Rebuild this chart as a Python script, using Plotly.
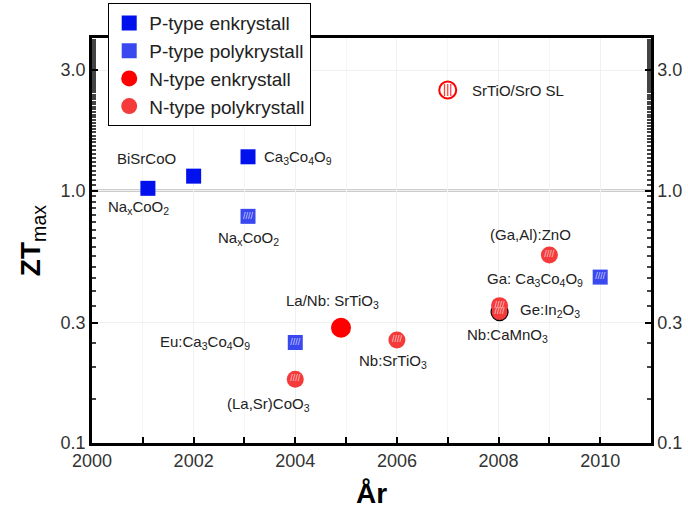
import math
import plotly.graph_objects as go

# ---------------- data ----------------
p_enk_year = [2001.1, 2002.0, 2003.07]
p_enk_zt = [1.02, 1.14, 1.36]
p_enk_label = ["Na<sub>x</sub>CoO<sub>2</sub>", "BiSrCoO", "Ca<sub>3</sub>Co<sub>4</sub>O<sub>9</sub>"]

p_poly_year = [2003.07, 2004.0, 2010.0]
p_poly_zt = [0.79, 0.25, 0.454]
p_poly_label = ["Na<sub>x</sub>CoO<sub>2</sub>", "Eu:Ca<sub>3</sub>Co<sub>4</sub>O<sub>9</sub>",
                "Ga: Ca<sub>3</sub>Co<sub>4</sub>O<sub>9</sub>"]

n_enk_year = [2004.9]
n_enk_zt = [0.286]
n_enk_label = ["La/Nb: SrTiO<sub>3</sub>"]

n_poly_year = [2004.0, 2006.0, 2009.0, 2008.02, 2008.02]
n_poly_zt = [0.179, 0.256, 0.555, 0.33, 0.35]
n_poly_label = ["(La,Sr)CoO<sub>3</sub>", "Nb:SrTiO<sub>3</sub>", "(Ga,Al):ZnO",
                "Nb:CaMnO<sub>3</sub>", "Ge:In<sub>2</sub>O<sub>3</sub>"]
n_poly_outline = ["rgba(0,0,0,0)", "rgba(0,0,0,0)", "rgba(0,0,0,0)", "black", "rgba(0,0,0,0)"]

sl_year = [2007.0]
sl_zt = [2.5]
sl_label = ["SrTiO/SrO SL"]

ref_zt = 1.0
ytick_vals = [0.1, 0.3, 1.0, 3.0]
ytick_text = ["0.1", "0.3", "1.0", "3.0"]
xtick_vals = [2000, 2002, 2004, 2006, 2008, 2010]

# label placement (pixel offsets, anchor)
p_enk_off = [(-9, -19, "center"), (-47, 18, "center"), (14, -1, "left")]
p_poly_off = [(0, -22, "center"), (-43, 0, "right"), (-15, -2, "right")]
n_enk_off = [(-9, 26, "center")]
n_poly_off = [(-27, -25, "center"), (-4, -22, "center"), (-19, 21, "center"),
              (8, -23, "center"), (18, -5, "left")]
sl_off = [(22, 0, "left")]

FONT = "Arial, Liberation Sans, Helvetica, sans-serif"
BLUE = "#0011ee"
BLUE_H = "#3a48f0"
RED = "#ff0000"
RED_H = "#f43a3a"

fig = go.Figure()

fig.add_trace(go.Scatter(x=p_enk_year, y=p_enk_zt, mode="markers", name="P-type enkrystall",
                         marker=dict(symbol="square", size=15, color=BLUE, line=dict(width=0))))
fig.add_trace(go.Scatter(x=p_poly_year, y=p_poly_zt, mode="markers", name="P-type polykrystall",
                         marker=dict(symbol="square", size=15, color=BLUE_H, line=dict(width=0))))
fig.add_trace(go.Scatter(x=n_enk_year, y=n_enk_zt, mode="markers", name="N-type enkrystall",
                         marker=dict(symbol="circle", size=20, color=RED, line=dict(width=0))))
fig.add_trace(go.Scatter(x=n_poly_year, y=n_poly_zt, mode="markers", name="N-type polykrystall",
                         marker=dict(symbol="circle", size=17, color=RED_H,
                                     line=dict(width=1.2, color=n_poly_outline))))
fig.add_trace(go.Scatter(x=sl_year, y=sl_zt, mode="markers", name="SL", showlegend=False,
                         marker=dict(symbol="circle", size=17, color="white",
                                     line=dict(width=2, color=RED))))

# hatch overlays
fig.add_trace(go.Scatter(x=p_poly_year, y=p_poly_zt, mode="text", text=["////"] * len(p_poly_year),
                         textfont=dict(size=9, color="rgba(255,255,255,0.75)", family=FONT),
                         showlegend=False, hoverinfo="skip"))
fig.add_trace(go.Scatter(x=n_poly_year, y=n_poly_zt, mode="text", text=["////"] * len(n_poly_year),
                         textfont=dict(size=9, color="rgba(255,255,255,0.75)", family=FONT),
                         showlegend=False, hoverinfo="skip"))
fig.add_trace(go.Scatter(x=sl_year, y=sl_zt, mode="text", text=["|||"],
                         textfont=dict(size=12, color=RED, family=FONT),
                         showlegend=False, hoverinfo="skip"))
# invisible trace to activate right axis
fig.add_trace(go.Scatter(x=sl_year, y=sl_zt, yaxis="y2", mode="markers",
                         marker=dict(opacity=0), showlegend=False, hoverinfo="skip"))

fig.add_hline(y=ref_zt, line=dict(color="#999999", width=2), layer="below")

for xs, ys, labels, offs in [(p_enk_year, p_enk_zt, p_enk_label, p_enk_off),
                              (p_poly_year, p_poly_zt, p_poly_label, p_poly_off),
                              (n_enk_year, n_enk_zt, n_enk_label, n_enk_off),
                              (n_poly_year, n_poly_zt, n_poly_label, n_poly_off),
                              (sl_year, sl_zt, sl_label, sl_off)]:
    for x, y, lab, (dx, dy, anc) in zip(xs, ys, labels, offs):
        fig.add_annotation(x=x, y=math.log10(y), text=lab, showarrow=False, xanchor=anc,
                           yanchor="middle", xshift=dx, yshift=dy,
                           font=dict(size=15, color="#222222", family=FONT))

yax = dict(type="log", range=[-1, 0.604], tickvals=ytick_vals, ticktext=ytick_text,
           ticks="inside", ticklen=6, tickwidth=1.5, tickcolor="black",
           showline=True, linecolor="black", linewidth=2.5,
           tickfont=dict(size=18, color="#333333", family=FONT),
           showgrid=True, gridcolor="#f0f0f0", zeroline=False)

fig.update_layout(
    width=688, height=513,
    margin=dict(l=92, r=37, t=38, b=70, autoexpand=False),
    paper_bgcolor="white", plot_bgcolor="white",
    font=dict(family=FONT),
    xaxis=dict(range=[2000, 2011], tickvals=xtick_vals, ticks="inside", ticklen=6, tickwidth=1.5,
               tickcolor="black", showline=True, linecolor="black", linewidth=2.5, mirror=True,
               tickfont=dict(size=18, color="#333333", family=FONT),
               minor=dict(dtick=1, ticks="inside", ticklen=6, tickcolor="black", showgrid=True,
                          gridcolor="#f5f5f5"),
               showgrid=True, gridcolor="#f0f0f0", zeroline=False,
               title=dict(text="<b>År</b>", font=dict(size=28, color="black", family=FONT),
                          standoff=14)),
    yaxis=dict(**yax, minor=dict(ticks="inside", ticklen=4, tickcolor="#444444", showgrid=False),
               title=dict(text="<b>ZT</b><sub>max</sub>",
                          font=dict(size=28, color="black", family=FONT), standoff=12)),
    yaxis2=dict(**{k: v for k, v in yax.items() if k not in ("showgrid",)},
                overlaying="y", side="right", showgrid=False,
                minor=dict(ticks="inside", ticklen=4, tickcolor="#444444")),
    legend=dict(x=0.029, y=1.086, xanchor="left", yanchor="top",
                bordercolor="black", borderwidth=1, bgcolor="white",
                font=dict(size=19, color="#222222", family=FONT),
                itemwidth=30, tracegroupgap=0),
    showlegend=True,
)

fig.write_html("out.html")
